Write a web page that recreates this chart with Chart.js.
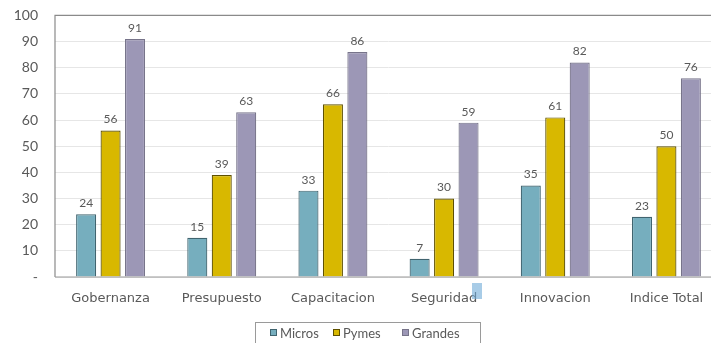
<!DOCTYPE html>
<html>
<head>
<meta charset="utf-8">
<script src="https://cdn.jsdelivr.net/npm/chart.js@4.4.1/dist/chart.umd.min.js"></script>
<style>
  html, body { margin: 0; padding: 0; background: #fff; overflow: hidden; }
  #wrap { position: relative; width: 724px; height: 343px; overflow: hidden; }
  #c { position: absolute; left: 0; top: -10px; }
</style>
</head>
<body>
<div id="wrap"><canvas id="c" width="724" height="353"></canvas></div>
<script>
// Índice por dimensión y tamaño de empresa
const categories = ['Gobernanza', 'Presupuesto', 'Capacitacion', 'Seguridad', 'Innovacion', 'Indice Total'];
const micros  = [24, 15, 33, 7, 35, 23];
const pymes   = [56, 39, 66, 30, 61, 50];
const grandes = [91, 63, 86, 59, 82, 76];
const seriesNames = ['Micros', 'Pymes', 'Grandes'];
const yTicks = [0, 10, 20, 30, 40, 50, 60, 70, 80, 90, 100];

const FONT = "'Lato', 'DejaVu Sans', sans-serif";
const WIDE = "'DejaVu Sans', sans-serif";
const TEXT = '#595959';

const fills   = ['#76AEBE', '#D8B800', '#9C97B6'];
const borders = ['#40646F', '#5E5000', '#77748A'];

// value labels above each bar
const valueLabels = {
  id: 'valueLabels',
  afterDatasetsDraw(chart) {
    const ctx = chart.ctx;
    ctx.save();
    ctx.font = '12px ' + FONT;
    ctx.fillStyle = TEXT;
    ctx.textAlign = 'center';
    ctx.textBaseline = 'bottom';
    chart.data.datasets.forEach((ds, i) => {
      chart.getDatasetMeta(i).data.forEach((bar, j) => {
        ctx.fillText(String(ds.data[j]), bar.x, bar.y - 5);
      });
    });
    ctx.restore();
  }
};

// frame lines, selection mark under "Seguridad" and boxed legend
const decorations = {
  id: 'decorations',
  afterDraw(chart) {
    const ctx = chart.ctx;
    const a = chart.chartArea;
    const dy = chart.height - 343; // canvas is taller than the visible page
    ctx.save();
    ctx.strokeStyle = '#8a8a8a';
    ctx.lineWidth = 1.2;
    ctx.beginPath();
    ctx.moveTo(a.left, a.bottom);
    ctx.lineTo(a.left, a.top);
    ctx.lineTo(a.right + 10, a.top);
    ctx.stroke();
    ctx.strokeStyle = '#9a9a9a';
    ctx.beginPath();
    ctx.moveTo(a.left, a.bottom);
    ctx.lineTo(a.right + 10, a.bottom);
    ctx.stroke();

    // small highlight block over the end of a label
    ctx.fillStyle = 'rgba(110,170,215,0.6)';
    ctx.fillRect(472, 283 + dy, 10, 16);

    // legend box
    ctx.strokeStyle = '#9a9a9a';
    ctx.lineWidth = 1;
    ctx.strokeRect(255.5, 322.5 + dy, 225, 30);
    ctx.font = '13px ' + FONT;
    ctx.textBaseline = 'middle';
    ctx.textAlign = 'left';
    const items = [{x: 270, tx: 280}, {x: 333, tx: 343}, {x: 402, tx: 412}];
    items.forEach((it, i) => {
      ctx.fillStyle = fills[i];
      ctx.fillRect(it.x, 329 + dy, 7, 7);
      ctx.strokeStyle = borders[i];
      ctx.strokeRect(it.x + 0.5, 329.5 + dy, 6, 6);
      ctx.fillStyle = TEXT;
      ctx.fillText(seriesNames[i], it.tx, 334 + dy);
    });
    ctx.restore();
  }
};

new Chart(document.getElementById('c'), {
  type: 'bar',
  data: {
    labels: categories,
    datasets: [micros, pymes, grandes].map((d, i) => ({
      label: seriesNames[i],
      data: d,
      backgroundColor: fills[i],
      borderColor: borders[i],
      borderWidth: 1.2,
      barPercentage: 0.82,
      categoryPercentage: 0.66
    }))
  },
  options: {
    responsive: false,
    animation: false,
    layout: { padding: { top: 5, right: 2, left: 0, bottom: 0 } },
    plugins: { legend: { display: false }, tooltip: { enabled: false } },
    scales: {
      x: {
        grid: { display: false, drawTicks: false },
        border: { display: false },
        ticks: { color: TEXT, font: { family: WIDE, size: 13 }, padding: 14, maxRotation: 0 },
        afterFit(s) { s.height = 66; }
      },
      y: {
        min: 0, max: 100,
        afterBuildTicks(s) { s.ticks = yTicks.map(v => ({ value: v })); },
        grid: { color: '#e6e6e6', lineWidth: 1, drawTicks: false },
        border: { display: false },
        ticks: {
          color: TEXT, font: { family: FONT, size: 14 }, padding: 17,
          callback: v => (v === 0 ? '-' : String(v))
        },
        afterFit(s) { s.width = 55; }
      }
    }
  },
  plugins: [valueLabels, decorations]
});
</script>
</body>
</html>
